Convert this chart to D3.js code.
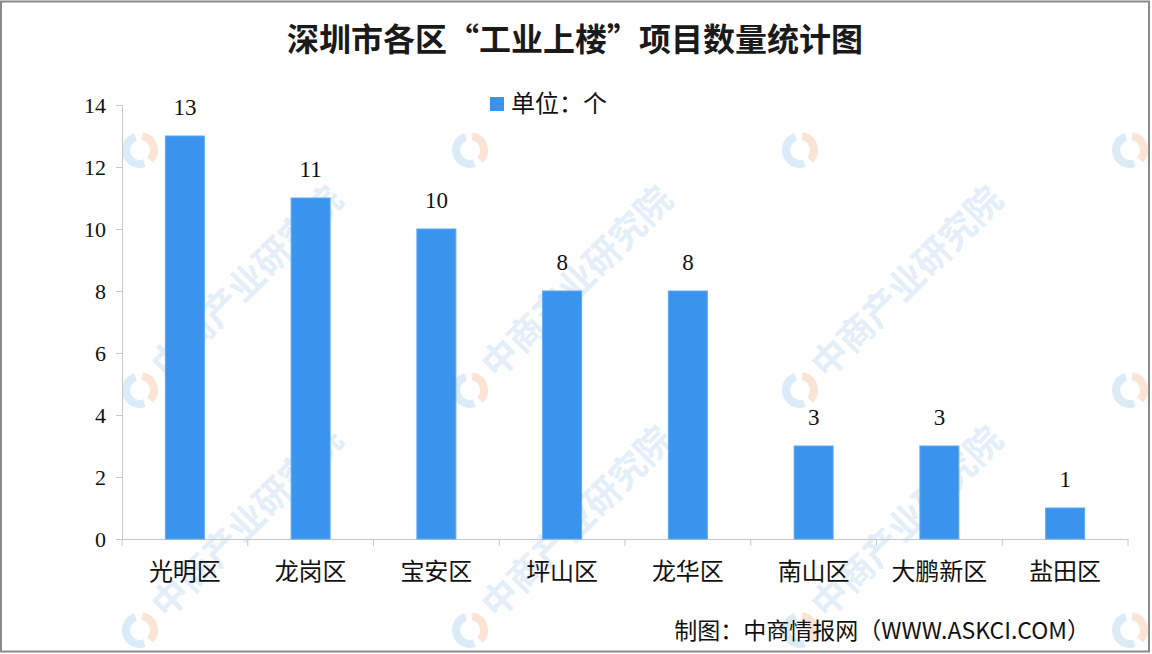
<!DOCTYPE html>
<html>
<head>
<meta charset="utf-8">
<script src="https://cdn.jsdelivr.net/npm/d3@7"></script>
<style>
  html, body { margin: 0; padding: 0; background: #fff; }
  svg { display: block; }
</style>
</head>
<body>
<svg id="chart" width="1152" height="654"></svg>
<script>
const categories = ["光明区", "龙岗区", "宝安区", "坪山区", "龙华区", "南山区", "大鹏新区", "盐田区"];
const values = [13, 11, 10, 8, 8, 3, 3, 1];
const yTicks = [0, 2, 4, 6, 8, 10, 12, 14];
const titleText = "深圳市各区“工业上楼”项目数量统计图";
const legendText = "单位：个";
const sourceText = "制图：中商情报网（WWW.ASKCI.COM）";
const watermarkText = "中商产业研究院";

const W = 1152, H = 654;
const margin = { left: 122, right: 24, top: 105, bottom: 115 };
const svg = d3.select("#chart");
const cjk = "'Noto Sans CJK SC', 'Noto Sans', sans-serif";
const serif = "'Liberation Serif', 'DejaVu Serif', serif";

// frame
svg.append("rect").attr("x", 1).attr("y", 1.5).attr("width", W - 4).attr("height", H - 4)
  .attr("fill", "#fff").attr("stroke", "#8a8a8a").attr("stroke-width", 2);

// watermarks
const wm = svg.append("g").attr("class", "watermarks");
const wmCols = [140, 470, 800, 1130];
const wmRows = [150, 390, 630];
wmRows.forEach((ry, ri) => wmCols.forEach((cx, ci) => {
  const g = wm.append("g").attr("transform", `translate(${cx},${ry})`);
  g.append("path").attr("d", d3.arc()({ innerRadius: 10, outerRadius: 18, startAngle: Math.PI * 0.9, endAngle: Math.PI * 1.9 }))
    .attr("fill", "#dcebf8");
  g.append("path").attr("d", d3.arc()({ innerRadius: 10, outerRadius: 18, startAngle: Math.PI * 0.05, endAngle: Math.PI * 0.75 }))
    .attr("fill", "#fbe3d6");
  if (ri > 0 && ci < wmCols.length - 1) {
    g.append("text").attr("x", 26).attr("y", 12).attr("transform", "rotate(-45)")
      .attr("font-family", cjk).attr("font-size", 36).attr("font-weight", "bold")
      .attr("fill", "#e3eef9").text(watermarkText);
  }
}));

const x = d3.scaleBand().domain(categories).range([margin.left, W - margin.right]).paddingInner(0.69).paddingOuter(0.345);
const y = d3.scaleLinear().domain([0, 14]).range([H - margin.bottom, margin.top]);

// y axis
const yAxis = svg.append("g").attr("transform", `translate(${margin.left},0)`)
  .call(d3.axisLeft(y).tickValues(yTicks).tickSize(6).tickPadding(10));
yAxis.select(".domain").attr("stroke", "#c8c8c8");
yAxis.selectAll(".tick line").attr("stroke", "#c8c8c8");
yAxis.selectAll(".tick text").attr("font-family", serif).attr("font-size", 22).attr("fill", "#111");

// x axis
const xAxis = svg.append("g").attr("transform", `translate(0,${H - margin.bottom})`)
  .call(d3.axisBottom(x).tickSize(0).tickPadding(27));
xAxis.select(".domain").attr("stroke", "#c8c8c8");
xAxis.selectAll(".tick text").attr("font-family", cjk).attr("font-size", 24).attr("fill", "#111").attr("dy", "0.6em");
// band separators
const step = x.step();
const seps = d3.range(categories.length + 1).map(i => margin.left + i * step);
svg.append("g").selectAll("line").data(seps).join("line")
  .attr("x1", d => d).attr("x2", d => d)
  .attr("y1", H - margin.bottom).attr("y2", H - margin.bottom + 7)
  .attr("stroke", "#c8c8c8");

// bars
svg.append("g").selectAll("rect").data(values).join("rect")
  .attr("x", (d, i) => x(categories[i]))
  .attr("y", d => y(d))
  .attr("width", x.bandwidth())
  .attr("height", d => y(0) - y(d))
  .attr("fill", "#3a93ec")
  .attr("stroke", "#5aaaf5").attr("stroke-width", 1);

// value labels
svg.append("g").selectAll("text").data(values).join("text")
  .attr("x", (d, i) => x(categories[i]) + x.bandwidth() / 2)
  .attr("y", d => y(d) - 21)
  .attr("text-anchor", "middle")
  .attr("font-family", serif).attr("font-size", 23).attr("fill", "#111")
  .text(d => d);

// title
svg.append("text").attr("x", 575).attr("y", 51).attr("text-anchor", "middle")
  .attr("font-family", cjk).attr("font-size", 32).attr("font-weight", "bold").attr("fill", "#1a1a1a")
  .text(titleText);

// legend
svg.append("rect").attr("x", 490).attr("y", 97).attr("width", 14).attr("height", 14).attr("fill", "#3a93ec");
svg.append("text").attr("x", 511).attr("y", 112).attr("font-family", cjk).attr("font-size", 24).attr("fill", "#111")
  .text(legendText);

// source
svg.append("text").attr("x", 1090).attr("y", 639).attr("text-anchor", "end")
  .attr("font-family", cjk).attr("font-size", 23).attr("fill", "#111")
  .text(sourceText);
</script>
</body>
</html>
